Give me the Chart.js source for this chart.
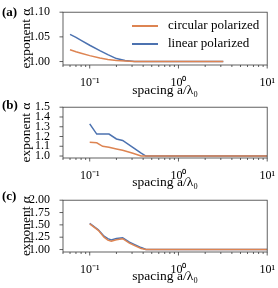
<!DOCTYPE html>
<html>
<head>
  <meta charset="UTF-8" />
  <title>exponent vs spacing</title>
  <script src="https://cdn.jsdelivr.net/npm/chart.js"></script>
  <style>
    body {
      margin: 0;
      width: 278px;
      height: 288px;
      overflow: hidden;
      background: #fff;
      position: relative;
      font-family: 'Liberation Serif', serif;
      color: #000;
    }
    canvas { position: absolute; left: 0; }
    .tag {
      position: absolute;
      left: 2px;
      font-weight: bold;
      font-size: 13px;
      line-height: 14px;
    }
    .legend {
      position: absolute;
      left: 132px;
      font-size: 13px;
      line-height: 14px;
      white-space: nowrap;
    }
    .legend span.line {
      display: inline-block;
      width: 26px;
      height: 1.5px;
      vertical-align: middle;
      margin-right: 10px;
    }
  </style>
</head>
<body>
  <canvas id="chartA" width="278" height="99" style="top:0px"></canvas>
  <canvas id="chartB" width="278" height="96" style="top:95px"></canvas>
  <canvas id="chartC" width="278" height="97" style="top:188px"></canvas>

  <div class="tag" style="top:5px">(a)</div>
  <div class="tag" style="top:98px">(b)</div>
  <div class="tag" style="top:189px">(c)</div>

  <div class="legend" style="top:18px"><span class="line" id="legCirc"></span>circular polarized</div>
  <div class="legend" style="top:36px"><span class="line" id="legLin"></span>linear polarized</div>

  <script>
    const seriesNames = ['circular polarized', 'linear polarized'];
    const seriesColors = ['#dd8452', '#4c72b0'];

    // panel (a)
    const spacingA = [0.06, 0.07, 0.08, 0.1, 0.13, 0.16, 0.2, 0.25, 0.32, 0.5, 1, 2, 3.2];
    const circA = [1.024, 1.020, 1.017, 1.012, 1.007, 1.004, 1.002, 1.001, 1.000, 1.000, 1.000, 1.000, 1.000];
    const linA = [1.055, 1.049, 1.043, 1.033, 1.022, 1.014, 1.006, 1.002, 1.000, 1.000, 1.000, 1.000, 1.000];
    const yTicksA = [1.00, 1.05, 1.10];

    // panel (b)
    const spacingB = [0.1, 0.12, 0.14, 0.165, 0.2, 0.235, 0.3, 0.38, 0.43, 1, 10];
    const circB = [1.14, 1.135, 1.10, 1.09, 1.073, 1.06, 1.032, 1.00, 1.00, 1.00, 1.00];
    const linB = [1.33, 1.225, 1.225, 1.225, 1.175, 1.16, 1.095, 1.03, 1.00, 1.00, 1.00];
    const yTicksB = [1.0, 1.1, 1.2, 1.3, 1.4, 1.5];

    // panel (c)
    const spacingC = [0.1, 0.125, 0.145, 0.16, 0.175, 0.2, 0.235, 0.28, 0.33, 0.38, 0.43, 1, 10];
    const circC = [1.52, 1.39, 1.25, 1.19, 1.17, 1.20, 1.22, 1.13, 1.07, 1.02, 1.00, 1.00, 1.00];
    const linC = [1.53, 1.40, 1.27, 1.22, 1.195, 1.225, 1.24, 1.15, 1.09, 1.04, 1.00, 1.00, 1.00];
    const yTicksC = [1.00, 1.25, 1.50, 1.75, 2.00];

    // log x axis ticks
    const xMajorTicks = [0.1, 1, 10];
    const xTickLabels = ['10⁻¹', '10⁰', '10¹'];
    const xMinorTicks = [0.05, 0.06, 0.07, 0.08, 0.09, 0.2, 0.3, 0.4, 0.5, 0.6, 0.7, 0.8, 0.9,
                         2, 3, 4, 5, 6, 7, 8, 9];

    document.getElementById('legCirc').style.background = seriesColors[0];
    document.getElementById('legLin').style.background = seriesColors[1];

    Chart.defaults.font.family = "'Liberation Serif', serif";
    Chart.defaults.font.size = 12;
    Chart.defaults.color = '#000';

    const frameTicks = {
      id: 'frameTicks',
      afterDraw(chart) {
        const { ctx, chartArea: a, scales } = chart;
        ctx.save();
        ctx.strokeStyle = '#3a3a3a';
        ctx.lineWidth = 0.8;
        ctx.strokeRect(a.left, a.top, a.right - a.left, a.bottom - a.top);
        scales.x.ticks.forEach(t => {
          const px = scales.x.getPixelForValue(t.value);
          const len = t.major ? 3.5 : 2;
          ctx.beginPath();
          ctx.moveTo(px, a.bottom);
          ctx.lineTo(px, a.bottom + len);
          ctx.stroke();
        });
        scales.y.ticks.forEach(t => {
          const py = scales.y.getPixelForValue(t.value);
          ctx.beginPath();
          ctx.moveTo(a.left, py);
          ctx.lineTo(a.left - 3.5, py);
          ctx.stroke();
        });
        ctx.restore();
      }
    };

    function makePanel(id, spacing, circ, lin, yTicks, yMin, yMax, decimals, padTop, xHeight) {
      const ctx = document.getElementById(id).getContext('2d');
      return new Chart(ctx, {
        type: 'line',
        data: {
          datasets: [
            {
              label: seriesNames[0],
              data: spacing.map((x, i) => ({ x: x, y: circ[i] })),
              borderColor: seriesColors[0],
              borderWidth: 1.5,
              pointRadius: 0,
              tension: 0
            },
            {
              label: seriesNames[1],
              data: spacing.map((x, i) => ({ x: x, y: lin[i] })),
              borderColor: seriesColors[1],
              borderWidth: 1.5,
              pointRadius: 0,
              tension: 0
            }
          ]
        },
        options: {
          responsive: false,
          animation: false,
          layout: { padding: { top: padTop, right: 10, left: 0, bottom: 0 } },
          plugins: { legend: { display: false }, tooltip: { enabled: false } },
          scales: {
            x: {
              type: 'logarithmic',
              min: 0.05,
              max: 10,
              grid: { display: false },
              border: { display: false },
              afterBuildTicks(scale) {
                const vals = xMinorTicks.concat(xMajorTicks).sort((p, q) => p - q);
                scale.ticks = vals.map(v => ({ value: v, major: xMajorTicks.includes(v) }));
              },
              afterFit(scale) { scale.height = xHeight; },
              ticks: {
                autoSkip: false,
                maxRotation: 0,
                padding: 3,
                callback(value) {
                  const k = xMajorTicks.indexOf(value);
                  return k >= 0 ? xTickLabels[k] : '';
                }
              },
              title: {
                display: true,
                text: 'spacing a/λ₀',
                font: { size: 13.5 },
                padding: { top: 0, bottom: 0 }
              }
            },
            y: {
              min: yMin,
              max: yMax,
              grid: { display: false },
              border: { display: false },
              afterBuildTicks(scale) {
                scale.ticks = yTicks.map(v => ({ value: v }));
              },
              afterFit(scale) { scale.width = 63; },
              ticks: {
                autoSkip: false,
                padding: 5,
                callback(value) { return Number(value).toFixed(decimals); }
              },
              title: {
                display: true,
                text: 'exponent α',
                font: { size: 13.5 },
                padding: { top: 18, bottom: 0 }
              }
            }
          }
        },
        plugins: [frameTicks]
      });
    }

    makePanel('chartA', spacingA, circA, linA, yTicksA, 0.993, 1.10, 2, 7, 34);
    makePanel('chartB', spacingB, circB, linB, yTicksB, 0.98, 1.5, 1, 5, 33);
    makePanel('chartC', spacingC, circC, linC, yTicksC, 0.95, 2.0, 2, 3, 33);
  </script>
</body>
</html>
